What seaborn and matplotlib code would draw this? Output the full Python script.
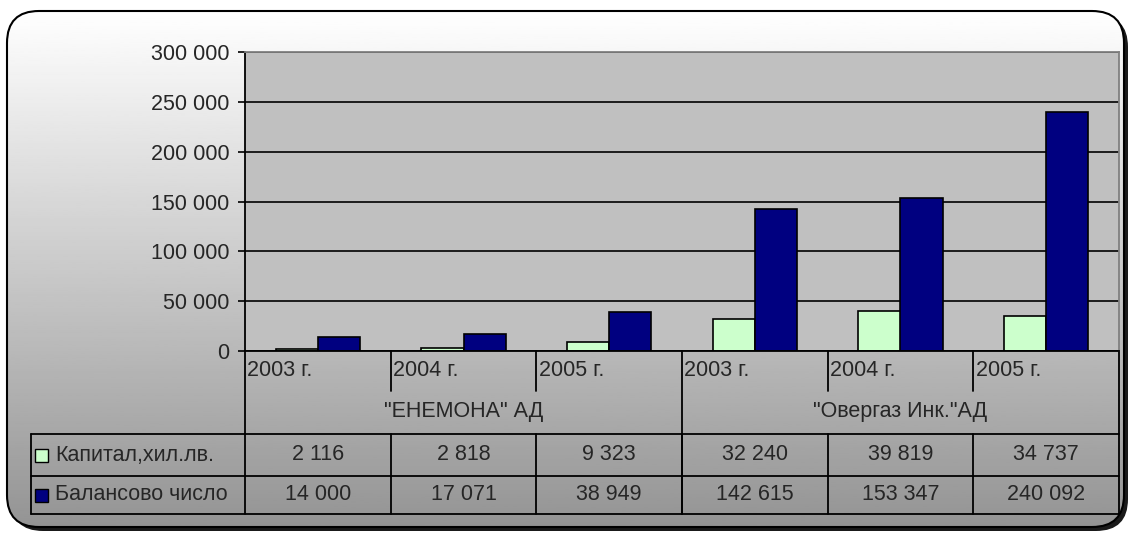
import numpy as np
import pandas as pd
import matplotlib
matplotlib.use('Agg')
import matplotlib.pyplot as plt
import seaborn as sns
from matplotlib.patches import FancyBboxPatch, Rectangle
from matplotlib.transforms import blended_transform_factory

# data
companies = ['"ЕНЕМОНА" АД', '"Овергаз Инк."АД']
years = ['2003 г.', '2004 г.', '2005 г.']
series_names = ['Капитал,хил.лв.', 'Балансово число']
capital = [2116, 2818, 9323, 32240, 39819, 34737]
balance = [14000, 17071, 38949, 142615, 153347, 240092]
colors = ['#CCFFCC', '#000080']

keys = [f'{c} {y}' for c in companies for y in years]
df = pd.DataFrame({
    'period': keys * 2,
    'series': [series_names[0]] * 6 + [series_names[1]] * 6,
    'value': capital + balance,
})

sns.set_theme(style='white')
plt.rcParams['font.family'] = ['Liberation Sans', 'DejaVu Sans']
FS = 15.5

W, H = 1129, 535
fig = plt.figure(figsize=(W / 100, H / 100), dpi=100)
fig.patch.set_facecolor('white')

# background: rounded frame with grey gradient and shadow
bg = fig.add_axes([0, 0, 1, 1], zorder=0)
bg.set_xlim(0, W)
bg.set_ylim(H, 0)
bg.axis('off')
shadow = FancyBboxPatch((11, 15), 1117, 516, boxstyle='round,pad=0,rounding_size=32',
                        facecolor='#1a1a1a', edgecolor='none')
bg.add_patch(shadow)
frame = FancyBboxPatch((7, 11), 1117, 516, boxstyle='round,pad=0,rounding_size=32',
                       facecolor='none', edgecolor='black', linewidth=1.5, zorder=3)
bg.add_patch(frame)
grad = np.linspace(1.0, 0.58, 256).reshape(-1, 1)
im = bg.imshow(grad, extent=[7, 1124, 527, 11], aspect='auto', cmap='gray',
               vmin=0, vmax=1, zorder=1)
im.set_clip_path(FancyBboxPatch((7, 11), 1117, 516, boxstyle='round,pad=0,rounding_size=32',
                                transform=bg.transData))

# main plot
ax_l, ax_r, ax_t, ax_b = 245, 1119, 52, 351
ax = fig.add_axes([ax_l / W, 1 - ax_b / H, (ax_r - ax_l) / W, (ax_b - ax_t) / H], zorder=2)
ax.set_facecolor('#C0C0C0')
sns.barplot(data=df, x='period', y='value', hue='series', order=keys,
            hue_order=series_names, palette=colors, width=0.58,
            edgecolor='black', linewidth=1.2, saturation=1, legend=False, ax=ax)
ax.set_ylim(0, 300000)
ax.set_xlim(-0.5, 5.5)
ax.set_yticks(range(0, 300001, 50000))
ax.set_yticklabels([f'{v:,}'.replace(',', ' ') for v in range(0, 300001, 50000)], fontsize=FS)
ax.set_xticks([])
ax.set_xlabel('')
ax.set_ylabel('')
ax.yaxis.grid(True, color='black', linewidth=1.2)
ax.set_axisbelow(True)
ax.tick_params(axis='y', left=True, length=5, width=1.2, pad=6, color='black')
for s in ['left', 'bottom']:
    ax.spines[s].set_color('black')
    ax.spines[s].set_linewidth(1.3)
for s in ['top', 'right']:
    ax.spines[s].set_color('#808080')
    ax.spines[s].set_linewidth(1.3)

# data table under the plot
def ay(py):
    return (ax_b - py) / (ax_b - ax_t)

def axx(px):
    return (px - ax_l) / (ax_r - ax_l)

tr = blended_transform_factory(ax.transData, ax.transAxes)
lk = dict(color='black', linewidth=1.3, clip_on=False)

# vertical lines
ax.plot([-0.5, -0.5], [0, ay(514)], transform=tr, **lk)
ax.plot([5.5, 5.5], [0, ay(514)], transform=tr, **lk)
for i in range(1, 6):
    bottom = ay(514) if i == 3 else ay(391)
    ax.plot([i - 0.5, i - 0.5], [0, bottom], transform=tr, **lk)
    ax.plot([i - 0.5, i - 0.5], [ay(434), ay(514)], transform=tr, **lk)
# horizontal lines
for py in [434, 476, 514]:
    ax.plot([axx(31), 1], [ay(py), ay(py)], transform=ax.transAxes, **lk)
ax.plot([axx(31), axx(31)], [ay(434), ay(514)], transform=ax.transAxes, **lk)

# year labels
for i, k in enumerate(keys):
    ax.text(i - 0.5 + 0.015, ay(370), years[i % 3], transform=tr, ha='left', va='center',
            fontsize=FS, clip_on=False)
# company labels
for j, c in enumerate(companies):
    ax.text(3 * j + 1, ay(411), c, transform=tr, ha='center', va='center',
            fontsize=FS, clip_on=False)
# value rows
for r, (vals, py) in enumerate([(capital, 455), (balance, 495)]):
    for i, v in enumerate(vals):
        ax.text(i, ay(py), f'{v:,}'.replace(',', ' '), transform=tr, ha='center',
                va='center', fontsize=FS, clip_on=False)
    ax.add_patch(Rectangle((axx(35), ay(py + 6.5)), 13 / (ax_r - ax_l), 13 / (ax_b - ax_t),
                           transform=ax.transAxes, facecolor=colors[r], edgecolor='black',
                           linewidth=1.0, clip_on=False))
    ax.text(axx(55), ay(py), series_names[r], transform=ax.transAxes, ha='left',
            va='center', fontsize=FS, clip_on=False)

fig.savefig('out.png', dpi=100)
